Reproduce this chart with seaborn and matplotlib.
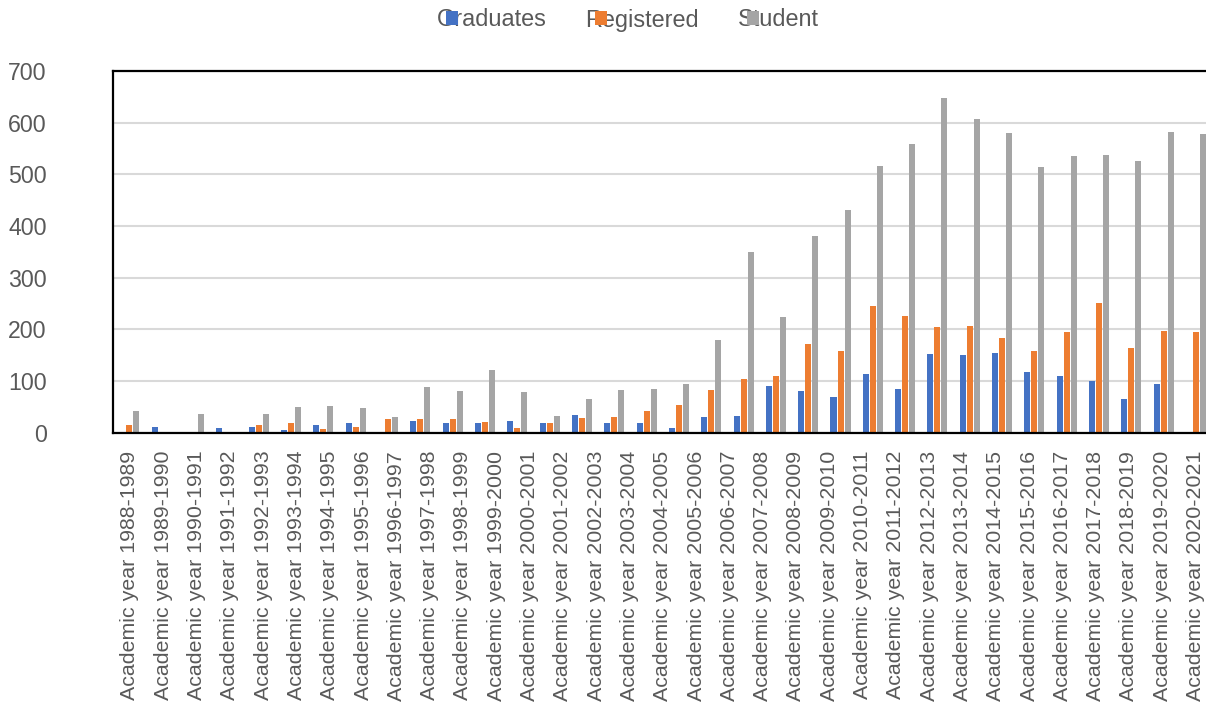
import matplotlib
matplotlib.use("Agg")
import matplotlib.pyplot as plt
import pandas as pd
import seaborn as sns

# Source table rows (one bar group per row)
entries = list(range(1, 35))
graduates = [0, 12, 0, 10, 12, 6, 14, 18, 0, 23, 19, 19, 23, 19, 35, 19, 19, 10,
             31, 33, 90, 80, 69, 113, 84, 152, 150, 154, 117, 109, 100, 65, 94, 0]
registered = [15, 0, 0, 0, 14, 18, 8, 12, 27, 27, 27, 21, 10, 19, 29, 31, 42, 54,
              83, 104, 109, 171, 158, 246, 225, 204, 206, 183, 158, 194, 250, 163, 196, 194]
students = [42, 0, 37, 0, 37, 50, 52, 48, 31, 89, 81, 121, 79, 33, 65, 83, 85, 95,
            179, 350, 223, 381, 431, 516, 558, 648, 607, 580, 514, 535, 537, 526, 582, 578]

series_names = ["Graduates", "Registered", "Student"]
series_colors = ["#4472C4", "#ED7D31", "#A5A5A5"]

tick_labels = [
    "Academic year 1988-1989", "Academic year 1989-1990", "Academic year 1990-1991",
    "Academic year 1991-1992", "Academic year 1992-1993", "Academic year 1993-1994",
    "Academic year 1994-1995", "Academic year 1995-1996", "Academic year 1996-1997",
    "Academic year 1997-1998", "Academic year 1998-1999", "Academic year 1999-2000",
    "Academic year 2000-2001", "Academic year 2001-2002", "Academic year 2002-2003",
    "Academic year 2003-2004", "Academic year 2004-2005", "Academic year 2005-2006",
    "Academic year 2006-2007", "Academic year 2007-2008", "Academic year 2008-2009",
    "Academic year 2009-2010", "Academic year 2010-2011", "Academic year 2011-2012",
    "Academic year 2012-2013", "Academic year 2013-2014", "Academic year 2014-2015",
    "Academic year 2015-2016", "Academic year 2016-2017", "Academic year 2017-2018",
    "Academic year 2018-2019", "Academic year 2019-2020", "Academic year 2020-2021",
]
y_ticks = [0, 100, 200, 300, 400, 500, 600, 700]

TEXT = "#595959"

sns.set_theme(style="white")
plt.rcParams["font.family"] = ["Liberation Sans", "DejaVu Sans"]

df = pd.DataFrame({
    "entry": entries * 3,
    "series": [series_names[0]] * len(entries) + [series_names[1]] * len(entries)
              + [series_names[2]] * len(entries),
    "value": graduates + registered + students,
})

fig = plt.figure(figsize=(12.06, 7.06), dpi=100)
ax = fig.add_axes([113.3 / 1206, 0.3871, 1098.9 / 1206, 0.5126])

sns.barplot(data=df, x="entry", y="value", hue="series", hue_order=series_names,
            palette=series_colors, saturation=1, width=0.65, gap=0.14,
            linewidth=0, errorbar=None, ax=ax)

leg = ax.get_legend()
handles = leg.legend_handles
labels = [t.get_text() for t in leg.get_texts()]
leg.remove()

ax.set_xlabel("")
ax.set_ylabel("")
ax.set_ylim(0, 700)
ax.set_yticks(y_ticks)
ax.set_xlim(-0.5, len(entries) - 0.5)
ax.tick_params(axis="x", labelbottom=False, length=0)
ax.tick_params(axis="y", length=0, pad=48, labelsize=16.7, labelcolor=TEXT)
ax.yaxis.grid(True, color="#d9d9d9", linewidth=1.5)
ax.set_axisbelow(True)
for name in ["top", "left", "bottom"]:
    ax.spines[name].set_color("black")
    ax.spines[name].set_linewidth(1.6)
ax.spines["right"].set_visible(False)

# Category labels on their own axis along the bottom
lab_ax = ax.twiny()
lab_ax.set_xlim(-0.5, len(tick_labels) - 0.5)
lab_ax.set_xticks(range(len(tick_labels)))
lab_ax.set_xticklabels(tick_labels, rotation=90)
lab_ax.xaxis.set_ticks_position("bottom")
lab_ax.xaxis.set_label_position("bottom")
lab_ax.tick_params(axis="x", length=0, pad=13, labelsize=15.4, labelcolor=TEXT)
for s in lab_ax.spines.values():
    s.set_visible(False)

legend_kw = dict(loc="center", bbox_to_anchor=(0.5245, 1 - 20 / 706), ncol=3,
                 frameon=False, fontsize=16.9, handlelength=0.5, handleheight=0.55,
                 handletextpad=-0.9, columnspacing=2.05, borderaxespad=0)
fig.legend(handles, labels, labelcolor=TEXT, **legend_kw)
# markers drawn again on top of the label text
fig.legend(handles, labels, labelcolor="none", **legend_kw)

fig.savefig("out.png", dpi=100)
